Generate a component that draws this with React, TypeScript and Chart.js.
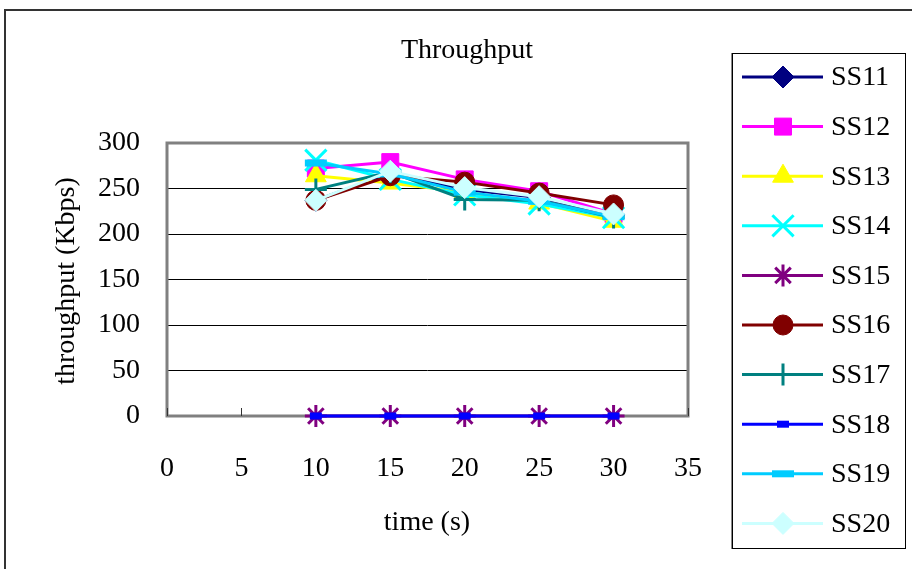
import React, { useEffect, useRef } from "react";
import { Chart, registerables } from "chart.js";

Chart.register(...registerables);

const times = [10, 15, 20, 25, 30];
const xTicks = [0, 5, 10, 15, 20, 25, 30, 35];
const yTicks = [0, 50, 100, 150, 200, 250, 300];

const seriesNames = ["SS11", "SS12", "SS13", "SS14", "SS15", "SS16", "SS17", "SS18", "SS19", "SS20"];
const ss11 = [237, 267, 249, 240, 221];
const ss12 = [272, 279, 260, 247, 222];
const ss13 = [264, 256, 246, 234, 214];
const ss14 = [281, 260, 243, 233, 218];
const ss15 = [0, 0, 0, 0, 0];
const ss16 = [237, 264, 257, 245, 232];
const ss17 = [249, 268, 238, 237, 218];
const ss18 = [0, 0, 0, 0, 0];
const ss19 = [278, 266, 246, 236, 219];
const ss20 = [237, 269, 251, 241, 222];
const seriesValues = [ss11, ss12, ss13, ss14, ss15, ss16, ss17, ss18, ss19, ss20];

const colors = ["#000080", "#FF00FF", "#FFFF00", "#00FFFF", "#800080", "#800000", "#008080", "#0000FF", "#00CCFF", "#CCFFFF"];
const styles = ["rectRot", "rect", "triangle", "crossRot", "star", "circle", "cross", "line", "line", "rectRot"];
const radii = [11, 12, 12, 15, 11, 10, 11, 6, 11, 11];
const pbw = [1, 1, 1, 3, 3, 1, 3, 7, 7, 1];

const FONT = "'Liberation Serif', 'Times New Roman', serif";

function drawMarker(ctx: CanvasRenderingContext2D, style: string, x: number, y: number, r: number, color: string, bw: number) {
  ctx.save();
  ctx.fillStyle = color;
  ctx.strokeStyle = color;
  ctx.lineWidth = bw;
  ctx.beginPath();
  const q = Math.SQRT1_2 * r;
  switch (style) {
    case "rectRot":
      ctx.moveTo(x, y - r);
      ctx.lineTo(x + r, y);
      ctx.lineTo(x, y + r);
      ctx.lineTo(x - r, y);
      ctx.closePath();
      ctx.fill();
      ctx.stroke();
      break;
    case "rect":
      ctx.rect(x - q, y - q, 2 * q, 2 * q);
      ctx.fill();
      ctx.stroke();
      break;
    case "triangle": {
      const s = r * Math.sqrt(3) / 2;
      ctx.moveTo(x, y - r);
      ctx.lineTo(x + s, y + r / 2);
      ctx.lineTo(x - s, y + r / 2);
      ctx.closePath();
      ctx.fill();
      ctx.stroke();
      break;
    }
    case "circle":
      ctx.arc(x, y, r, 0, Math.PI * 2);
      ctx.fill();
      ctx.stroke();
      break;
    case "crossRot":
      ctx.moveTo(x - q, y - q); ctx.lineTo(x + q, y + q);
      ctx.moveTo(x + q, y - q); ctx.lineTo(x - q, y + q);
      ctx.stroke();
      break;
    case "cross":
      ctx.moveTo(x, y - r); ctx.lineTo(x, y + r);
      ctx.moveTo(x - r, y); ctx.lineTo(x + r, y);
      ctx.stroke();
      break;
    case "star":
      ctx.moveTo(x, y - r); ctx.lineTo(x, y + r);
      ctx.moveTo(x - r, y); ctx.lineTo(x + r, y);
      ctx.moveTo(x - q, y - q); ctx.lineTo(x + q, y + q);
      ctx.moveTo(x + q, y - q); ctx.lineTo(x - q, y + q);
      ctx.stroke();
      break;
    case "line":
      ctx.moveTo(x - r, y); ctx.lineTo(x + r, y);
      ctx.stroke();
      break;
  }
  ctx.restore();
}

const decorPlugin = {
  id: "decor",
  beforeDatasetsDraw(chart: any) {
    const { ctx, chartArea } = chart;
    const xs = chart.scales.x;
    ctx.save();
    ctx.strokeStyle = "#808080";
    ctx.lineWidth = 3;
    ctx.strokeRect(chartArea.left, chartArea.top, chartArea.right - chartArea.left, chartArea.bottom - chartArea.top);
    ctx.strokeStyle = "#333";
    ctx.lineWidth = 1;
    for (const v of xTicks) {
      const px = Math.round(xs.getPixelForValue(v)) + 0.5;
      ctx.beginPath();
      ctx.moveTo(px, chartArea.bottom);
      ctx.lineTo(px, chartArea.bottom - 8);
      ctx.stroke();
    }
    ctx.restore();
  },
  afterDraw(chart: any) {
    const { ctx } = chart;
    ctx.save();
    ctx.strokeStyle = "#333";
    ctx.lineWidth = 2;
    ctx.beginPath();
    ctx.moveTo(5, 569);
    ctx.lineTo(5, 10);
    ctx.lineTo(912, 10);
    ctx.stroke();
    ctx.fillStyle = "#000";
    ctx.font = `28px ${FONT}`;
    ctx.textAlign = "center";
    ctx.textBaseline = "alphabetic";
    ctx.fillText("Throughput", 467, 58);
    ctx.fillText("time (s)", 427, 530);
    ctx.save();
    ctx.translate(74, 281);
    ctx.rotate(-Math.PI / 2);
    ctx.fillText("throughput (Kbps)", 0, 0);
    ctx.restore();
    ctx.strokeStyle = "#000";
    ctx.lineWidth = 1;
    ctx.strokeRect(732.5, 53.5, 173, 495);
    ctx.strokeStyle = "#888";
    ctx.beginPath();
    ctx.moveTo(731.5, 53);
    ctx.lineTo(731.5, 549);
    ctx.stroke();
    ctx.textAlign = "left";
    ctx.textBaseline = "middle";
    seriesNames.forEach((name, i) => {
      const y = 77 + i * 49.6;
      ctx.save();
      ctx.strokeStyle = colors[i];
      ctx.lineWidth = 3;
      ctx.beginPath();
      ctx.moveTo(742, y);
      ctx.lineTo(823, y);
      ctx.stroke();
      ctx.restore();
      drawMarker(ctx, styles[i], 783, y, radii[i], colors[i], pbw[i]);
      ctx.fillStyle = "#000";
      ctx.fillText(name, 831, y + 1);
    });
    ctx.restore();
  },
};

export default function App() {
  const ref = useRef<HTMLCanvasElement | null>(null);
  useEffect(() => {
    document.body.style.margin = "0";
    const canvas = ref.current!;
    const datasets = seriesNames.map((name, i) => ({
      label: name,
      data: times.map((t, k) => ({ x: t, y: seriesValues[i][k] })),
      borderColor: colors[i],
      backgroundColor: colors[i],
      borderWidth: 3,
      pointStyle: styles[i] as any,
      pointRadius: radii[i],
      pointBorderWidth: pbw[i],
      pointBackgroundColor: colors[i],
      pointBorderColor: colors[i],
      tension: 0,
      clip: false,
      order: 9 - i,
    }));
    const chart = new Chart(canvas, {
      type: "line",
      data: { datasets },
      options: {
        animation: false,
        responsive: false,
        layout: { padding: { left: 0, top: 143, right: 224, bottom: 0 } },
        plugins: { legend: { display: false }, title: { display: false }, tooltip: { enabled: false } },
        scales: {
          x: {
            type: "linear",
            min: 0,
            max: 35,
            afterBuildTicks: (s: any) => { s.ticks = xTicks.map((v) => ({ value: v })); },
            afterFit: (s: any) => { s.height = 153; },
            grid: { display: false, drawTicks: false },
            border: { display: false },
            ticks: { color: "#000", font: { family: FONT, size: 28 }, padding: 36, maxRotation: 0, autoSkip: false },
          },
          y: {
            type: "linear",
            min: 0,
            max: 300,
            afterBuildTicks: (s: any) => { s.ticks = yTicks.map((v) => ({ value: v })); },
            afterFit: (s: any) => { s.width = 167; },
            grid: { color: "#000", lineWidth: 1, drawTicks: false },
            border: { display: false },
            ticks: { color: "#000", font: { family: FONT, size: 28 }, padding: 27 },
          },
        },
      },
      plugins: [decorPlugin],
    });
    return () => chart.destroy();
  }, []);
  return (
    <div style={{ position: "absolute", left: 0, top: 0, width: 912, height: 569, background: "#fff" }}>
      <canvas ref={ref} width={912} height={569} />
    </div>
  );
}
